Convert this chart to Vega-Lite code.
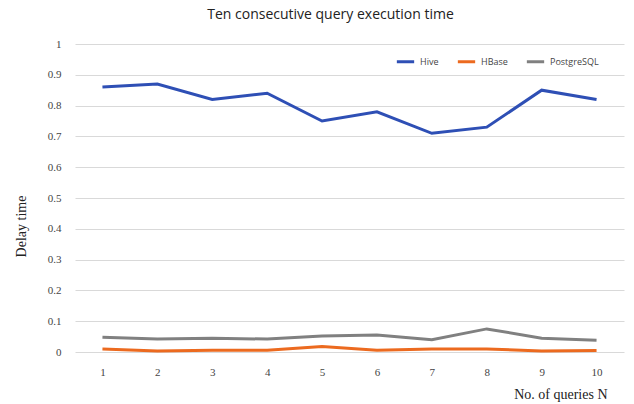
{
  "$schema": "https://vega.github.io/schema/vega-lite/v6.json",
  "autosize": "none",
  "width": 549,
  "height": 308,
  "padding": {"left": 75, "top": 44, "right": 10, "bottom": 52},
  "background": "white",
  "title": {"text": "Ten consecutive query execution time", "font": "Open Sans", "fontSize": 14, "fontWeight": "normal", "color": "#222", "anchor": "middle", "dx": -19, "offset": 16},
  "data": {"values": [
    {"n": 1, "s": "Hive", "v": 0.86}, {"n": 2, "s": "Hive", "v": 0.87}, {"n": 3, "s": "Hive", "v": 0.82}, {"n": 4, "s": "Hive", "v": 0.84}, {"n": 5, "s": "Hive", "v": 0.75},
    {"n": 6, "s": "Hive", "v": 0.78}, {"n": 7, "s": "Hive", "v": 0.71}, {"n": 8, "s": "Hive", "v": 0.73}, {"n": 9, "s": "Hive", "v": 0.85}, {"n": 10, "s": "Hive", "v": 0.82},
    {"n": 1, "s": "HBase", "v": 0.010}, {"n": 2, "s": "HBase", "v": 0.003}, {"n": 3, "s": "HBase", "v": 0.006}, {"n": 4, "s": "HBase", "v": 0.006}, {"n": 5, "s": "HBase", "v": 0.018},
    {"n": 6, "s": "HBase", "v": 0.006}, {"n": 7, "s": "HBase", "v": 0.010}, {"n": 8, "s": "HBase", "v": 0.010}, {"n": 9, "s": "HBase", "v": 0.003}, {"n": 10, "s": "HBase", "v": 0.005},
    {"n": 1, "s": "PostgreSQL", "v": 0.048}, {"n": 2, "s": "PostgreSQL", "v": 0.042}, {"n": 3, "s": "PostgreSQL", "v": 0.045}, {"n": 4, "s": "PostgreSQL", "v": 0.042}, {"n": 5, "s": "PostgreSQL", "v": 0.052},
    {"n": 6, "s": "PostgreSQL", "v": 0.055}, {"n": 7, "s": "PostgreSQL", "v": 0.040}, {"n": 8, "s": "PostgreSQL", "v": 0.075}, {"n": 9, "s": "PostgreSQL", "v": 0.045}, {"n": 10, "s": "PostgreSQL", "v": 0.038}
  ]},
  "mark": {"type": "line", "strokeWidth": 3},
  "encoding": {
    "x": {"field": "n", "type": "quantitative", "scale": {"domain": [0.5, 10.5], "nice": false},
      "axis": {"values": [1,2,3,4,5,6,7,8,9,10], "grid": false, "domain": false, "ticks": false, "labelFont": "Liberation Serif", "labelFontSize": 11, "labelColor": "#444", "labelPadding": 14,
        "title": "No. of queries N", "titleFont": "Liberation Serif", "titleFontSize": 14, "titleFontWeight": "normal", "titleColor": "#222", "titleAnchor": "end", "titleX": 532, "titleY": 35}},
    "y": {"field": "v", "type": "quantitative", "scale": {"domain": [0, 1], "nice": false},
      "axis": {"values": [0,0.1,0.2,0.3,0.4,0.5,0.6,0.7,0.8,0.9,1], "format": ".1~f", "domain": false, "ticks": false, "gridColor": "#d9d9d9", "gridWidth": 1, "labelFont": "Liberation Serif", "labelFontSize": 11, "labelColor": "#444", "labelPadding": 14,
        "title": "Delay time", "titleFont": "Liberation Serif", "titleFontSize": 14, "titleFontWeight": "normal", "titleColor": "#222", "titleX": -47, "titleY": 182}},
    "color": {"field": "s", "type": "nominal", "sort": ["Hive", "HBase", "PostgreSQL"],
      "scale": {"domain": ["Hive", "HBase", "PostgreSQL"], "range": ["#2e4fb5", "#ec6a1f", "#808080"]},
      "legend": {"title": null, "orient": "none", "direction": "horizontal", "legendX": 320, "legendY": 7, "symbolType": "stroke", "symbolStrokeWidth": 3, "symbolSize": 300, "labelFont": "Open Sans", "labelFontSize": 9, "labelColor": "#444", "columnPadding": 12}}
  },
  "config": {"view": {"stroke": null}}
}
